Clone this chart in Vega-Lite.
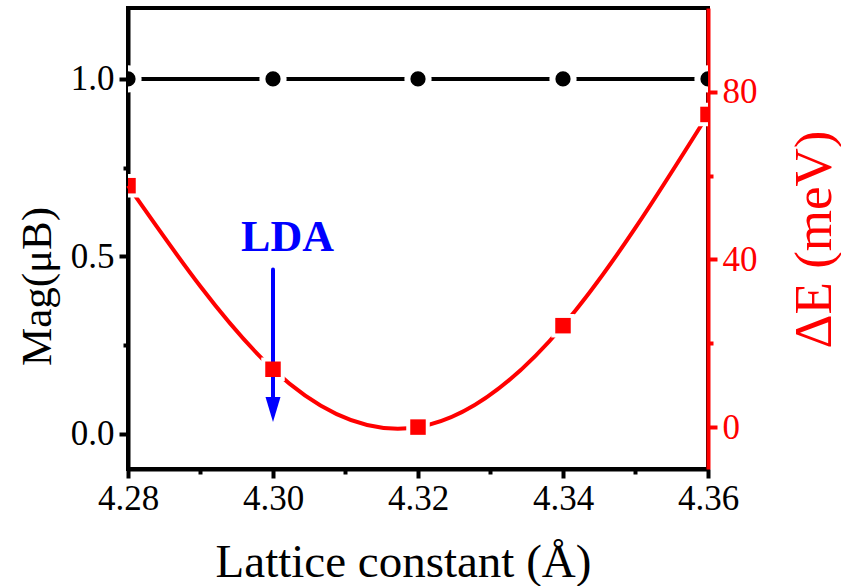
{
  "$schema": "https://vega.github.io/schema/vega-lite/v6.json",
  "width": 580,
  "height": 461,
  "autosize": {"type": "none"},
  "padding": {"left": 128, "top": 8, "right": 133, "bottom": 117},
  "background": "white",
  "config": {
    "font": "Liberation Serif",
    "view": {"stroke": "black", "strokeWidth": 4},
    "axis": {"grid": false, "zindex": 1}
  },
  "datasets": {
    "mag": [
      {"x": 4.28, "mag": 1.0},
      {"x": 4.30, "mag": 1.0},
      {"x": 4.32, "mag": 1.0},
      {"x": 4.34, "mag": 1.0},
      {"x": 4.36, "mag": 1.0}
    ],
    "de": [
      {"x": 4.28, "de": 57.6},
      {"x": 4.30, "de": 13.8},
      {"x": 4.32, "de": 0.0},
      {"x": 4.34, "de": 24.2},
      {"x": 4.36, "de": 74.6}
    ],
    "arrow": [{"x": 4.30, "de": 37.6, "de2": 5}],
    "arrowhead": [{"x": 4.30, "de": 4.2}],
    "label": [{"x": 4.302, "de": 42, "label": "LDA"}]
  },
  "layer": [
    {
      "data": {"name": "mag"},
      "encoding": {
        "x": {
          "field": "x",
          "type": "quantitative",
          "scale": {"domain": [4.28, 4.36], "nice": false, "zero": false},
          "axis": {
            "title": "Lattice constant (Å)",
            "values": [4.28, 4.29, 4.30, 4.31, 4.32, 4.33, 4.34, 4.35, 4.36],
            "labelExpr": "round(datum.value*100) % 2 == 0 ? format(datum.value, '.2f') : ''",
            "tickSize": {"condition": {"test": "round(datum.value*100) % 2 == 1", "value": 5}, "value": 9},
            "tickWidth": 4,
            "tickColor": "black",
            "domainColor": "black",
            "domainWidth": 4,
            "labelFontSize": 35,
            "labelColor": "black",
            "labelPadding": 3,
            "labelFlush": false,
            "labelOverlap": false,
            "titleFontSize": 47,
            "titleFontWeight": "normal",
            "titleColor": "black",
            "titleX": 275,
            "titleY": 107,
            "titleAlign": "center",
            "titleBaseline": "alphabetic"
          }
        },
        "y": {
          "field": "mag",
          "type": "quantitative",
          "scale": {"domain": [-0.1, 1.2], "nice": false, "zero": false},
          "axis": {
            "orient": "left",
            "title": "Mag(μB)",
            "values": [0, 0.25, 0.5, 0.75, 1.0],
            "labelExpr": "(datum.value == 0 || datum.value == 0.5 || datum.value == 1) ? format(datum.value, '.1f') : ''",
            "tickSize": {"condition": {"test": "datum.value == 0.25 || datum.value == 0.75", "value": 5}, "value": 9},
            "tickWidth": 4,
            "tickColor": "black",
            "domainColor": "black",
            "domainWidth": 4,
            "labelFontSize": 35,
            "labelColor": "black",
            "labelPadding": 5,
            "labelFlush": false,
            "labelOverlap": false,
            "titleFontSize": 43,
            "titleFontWeight": "normal",
            "titleColor": "black",
            "titleAngle": 270,
            "titleX": -78,
            "titleY": 278,
            "titleAlign": "center",
            "titleBaseline": "alphabetic"
          }
        }
      },
      "layer": [
        {"mark": {"type": "line", "color": "black", "strokeWidth": 4}},
        {"mark": {"type": "point", "shape": "circle", "filled": true, "fill": "black", "size": 450, "stroke": "white", "strokeWidth": 6, "opacity": 1, "clip": true}}
      ]
    },
    {
      "encoding": {
        "x": {
          "field": "x",
          "type": "quantitative",
          "scale": {"domain": [4.28, 4.36], "nice": false, "zero": false}
        },
        "y": {
          "field": "de",
          "type": "quantitative",
          "scale": {"domain": [-10, 100], "nice": false, "zero": false},
          "axis": {
            "orient": "right",
            "title": "ΔE (meV)",
            "values": [0, 20, 40, 60, 80],
            "labelExpr": "datum.value % 40 == 0 ? format(datum.value, 'd') : ''",
            "tickSize": {"condition": {"test": "datum.value == 20 || datum.value == 60", "value": 5}, "value": 9},
            "tickWidth": 4,
            "tickColor": "red",
            "domainColor": "red",
            "domainWidth": 4,
            "labelFontSize": 35,
            "labelColor": "red",
            "labelPadding": 5,
            "labelFlush": false,
            "labelOverlap": false,
            "titleFontSize": 53,
            "titleFontWeight": "normal",
            "titleColor": "red",
            "titleAngle": 270,
            "titleX": 122,
            "titleY": 231,
            "titleAlign": "center",
            "titleBaseline": "alphabetic"
          }
        }
      },
      "layer": [
        {
          "data": {"name": "de"},
          "mark": {"type": "line", "color": "red", "strokeWidth": 4, "interpolate": "natural"}
        },
        {
          "data": {"name": "de"},
          "mark": {"type": "point", "shape": "square", "filled": true, "fill": "red", "size": 240, "stroke": "white", "strokeWidth": 8, "opacity": 1, "clip": true}
        },
        {
          "data": {"name": "arrow"},
          "mark": {"type": "rule", "color": "blue", "strokeWidth": 4, "strokeCap": "round"},
          "encoding": {"y2": {"field": "de2"}}
        },
        {
          "data": {"name": "arrowhead"},
          "mark": {"type": "point", "shape": "M -0.6 -1 L 0.6 -1 L 0 1 Z", "filled": true, "fill": "blue", "strokeWidth": 0, "size": 625, "opacity": 1}
        },
        {
          "data": {"name": "label"},
          "mark": {"type": "text", "font": "Liberation Serif", "fontSize": 44, "fontWeight": "bold", "color": "blue", "align": "center", "baseline": "alphabetic"},
          "encoding": {"text": {"field": "label"}}
        },
        {
          "data": {"name": "de"},
          "mark": {"type": "point", "shape": "square", "filled": true, "fill": "red", "size": 240, "strokeWidth": 0, "opacity": 1, "clip": true}
        }
      ]
    }
  ],
  "resolve": {"scale": {"y": "independent"}, "axis": {"y": "independent"}}
}
